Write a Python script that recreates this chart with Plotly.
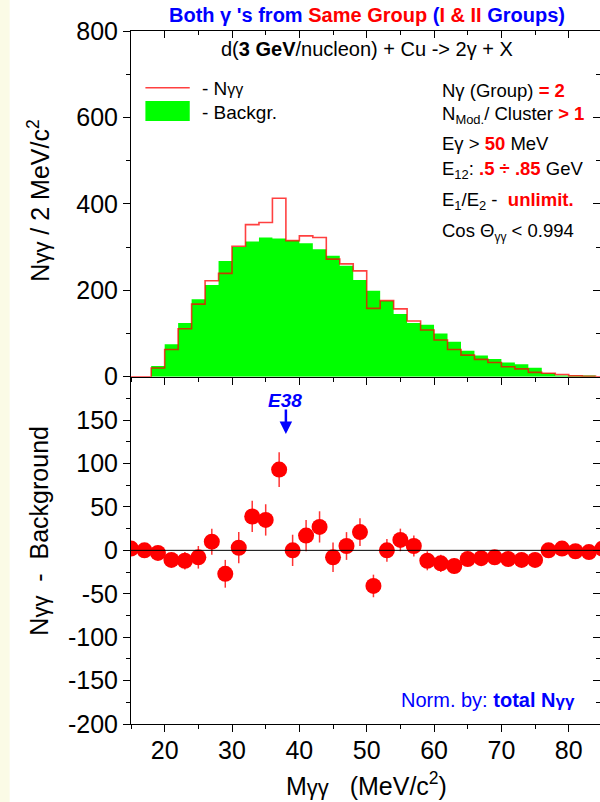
import plotly.graph_objects as go

# ---------------- data ----------------
mass = [15, 17, 19, 21, 23, 25, 27, 29, 31, 33, 35, 37, 39, 41, 43, 45, 47, 49,
        51, 53, 55, 57, 59, 61, 63, 65, 67, 69, 71, 73, 75, 77, 79, 81, 83, 85]
n_gg = [0, 0, 20, 63, 111, 168, 222, 239, 302, 352, 357, 413, 315, 326, 322, 272, 261, 245,
        158, 176, 157, 129, 108, 85, 63, 50, 40, 33, 23, 18, 10, 8, 5, 2, 1, 0]
backgr = [0, 0, 25, 75, 124, 179, 212, 268, 300, 313, 322, 320, 315, 309, 295, 280, 257, 224,
          199, 176, 145, 124, 120, 100, 81, 60, 49, 41, 33, 29, 21, 8, 3, 3, 3, 0]
diff = [2, 0, -3, -11, -12, -8, 10, -27, 3, 39, 35, 93, 0, 17, 27, -8, 5, 21,
        -41, 0, 12, 5, -12, -15, -18, -10, -9, -8, -10, -11, -11, 0, 2, -1, -2, 2]
diff_err = [3, 3, 5, 8, 10, 13, 15, 16, 18, 18, 18, 20, 18, 18, 18, 17, 16, 16,
            13, 13, 13, 12, 11, 10, 9, 8, 7, 6, 5, 5, 4, 4, 3, 3, 2, 2]
x_tickvals = [20, 30, 40, 50, 60, 70, 80]
top_tickvals = [0, 200, 400, 600, 800]
bot_tickvals = [-200, -150, -100, -50, 0, 50, 100, 150]
bot_ticktext = ["-200", "-150", "-100", "-50", "0", "50", "100", "150"]
peak_mass = 38

# ---------------- geometry ----------------
W, H = 600, 802
L, R, T, B = 131.3, 600, 31, 724
MID = 376.7
XR = [15, 15 + (R - L) / 6.73]
d = (B - MID) / (B - T)

def px(xp):
    return (xp - L) / (R - L)

def py(yp):
    return (B - yp) / (B - T)

FONT = "Liberation Sans, Arial, sans-serif"
RED = "#FF0000"
BLUE = "#0000FF"
LINE_RED = "rgba(255,0,0,0.75)"

fig = go.Figure()
fig.add_trace(go.Scatter(x=mass, y=backgr, mode="lines", line=dict(shape="hvh", width=0, color="#00FF00"),
                         fill="tozeroy", fillcolor="#00FF00",
                         xaxis="x2", yaxis="y2", showlegend=False, hoverinfo="skip"))
fig.add_trace(go.Scatter(x=mass, y=n_gg, mode="lines",
                         line=dict(shape="hvh", color=LINE_RED, width=1.6),
                         xaxis="x2", yaxis="y2", showlegend=False, hoverinfo="skip"))
fig.add_trace(go.Scatter(x=mass, y=diff, mode="markers",
                         marker=dict(size=16, color=RED, line=dict(width=0)),
                         error_y=dict(type="data", array=diff_err, color="rgba(255,0,0,0.8)",
                                      thickness=1.5, width=0),
                         xaxis="x", yaxis="y", showlegend=False, hoverinfo="skip"))
# helper (invisible) traces so the tick-only overlay axes are drawn
fig.add_trace(go.Scatter(x=mass, y=n_gg, mode="none", xaxis="x3", yaxis="y2",
                         showlegend=False, hoverinfo="skip"))
fig.add_trace(go.Scatter(x=mass, y=n_gg, mode="none", xaxis="x2", yaxis="y3",
                         showlegend=False, hoverinfo="skip"))
fig.add_trace(go.Scatter(x=mass, y=diff, mode="none", xaxis="x", yaxis="y4",
                         showlegend=False, hoverinfo="skip"))

tickfont = dict(family=FONT, size=25, color="black")
axcommon = dict(showgrid=False, zeroline=False, linecolor="black", linewidth=1,
                tickcolor="black", tickwidth=1, ticklen=7, tickfont=tickfont)

fig.update_layout(
    width=W, height=H,
    margin=dict(l=L, r=W - R, t=T, b=H - B, pad=0),
    paper_bgcolor="white", plot_bgcolor="white",
    hovermode=False,
    font=dict(family=FONT, color="black"),
    xaxis=dict(**axcommon, domain=[0, 1], anchor="y", range=XR, tickvals=x_tickvals,
               ticks="outside", showline=True, ticklabelstandoff=-3,
               minor=dict(dtick=5, tick0=15, ticks="outside", ticklen=4, tickcolor="black")),
    yaxis=dict(**axcommon, domain=[0, d], anchor="x", range=[-200, 200], tickvals=bot_tickvals,
               ticktext=bot_ticktext, ticks="outside", showline=True,
               minor=dict(dtick=25, tick0=0, ticks="outside", ticklen=4, tickcolor="black")),
    xaxis2=dict(**axcommon, domain=[0, 1], anchor="y2", range=XR, tickvals=x_tickvals,
                ticks="outside", showline=True, showticklabels=False,
                minor=dict(dtick=5, tick0=15, ticks="outside", ticklen=4, tickcolor="black")),
    yaxis2=dict(**axcommon, domain=[d, 1], anchor="x2", range=[0, 800], tickvals=top_tickvals,
                ticks="outside", showline=True,
                minor=dict(dtick=100, tick0=0, ticks="outside", ticklen=4, tickcolor="black")),
    xaxis3=dict(**axcommon, overlaying="x2", anchor="y2", side="top", range=XR,
                tickvals=x_tickvals, ticks="inside", showline=True, showticklabels=False,
                minor=dict(dtick=5, tick0=15, ticks="inside", ticklen=4, tickcolor="black")),
    yaxis3=dict(**axcommon, overlaying="y2", anchor="x2", side="right", range=[0, 800],
                tickvals=top_tickvals, ticks="inside", showline=False, showticklabels=False,
                minor=dict(dtick=100, tick0=0, ticks="inside", ticklen=4, tickcolor="black")),
    yaxis4=dict(**axcommon, overlaying="y", anchor="x", side="right", range=[-200, 200],
                tickvals=bot_tickvals, ticks="inside", showline=False, showticklabels=False,
                minor=dict(dtick=25, tick0=0, ticks="inside", ticklen=4, tickcolor="black")),
)

# zero line in the difference panel
fig.add_shape(type="line", xref="x", yref="y", x0=XR[0], x1=XR[1], y0=0, y1=0,
              line=dict(color="black", width=1))
# cream strip on the left edge of the page
fig.add_shape(type="rect", xref="paper", yref="paper", x0=px(0), x1=px(10), y0=py(H), y1=py(0),
              fillcolor="#FBFBE6", line=dict(width=0), layer="below")
# legend symbols
fig.add_shape(type="line", xref="paper", yref="paper", x0=px(145.7), x1=px(190),
              y0=py(87.7), y1=py(87.7), line=dict(color=LINE_RED, width=1.6))
fig.add_shape(type="rect", xref="paper", yref="paper", x0=px(145.7), x1=px(190),
              y0=py(121), y1=py(101), fillcolor="#00FF00", line=dict(width=0))

def ann(text, x, y, size, xanchor="center", color="black", angle=0):
    fig.add_annotation(text=text, xref="paper", yref="paper", x=px(x), y=py(y),
                       xanchor=xanchor, yanchor="middle", showarrow=False, textangle=angle,
                       font=dict(family=FONT, size=size, color=color))

gg = lambda s: '<span style="font-size:%dpx">γγ</span>' % s

ann('<b><span style="color:blue">Both γ \'s from </span><span style="color:red">Same Group </span>'
    '<span style="color:blue">(</span><span style="color:red">I &amp; II</span>'
    '<span style="color:blue"> Groups)</span></b>', 367, 15, 20)
ann('d(<b>3 GeV</b>/nucleon) + Cu -&gt; 2γ + X', 367, 49, 20)

ann('- N' + gg(16), 200, 88, 19, xanchor="left")
ann('- Backgr.', 200, 112, 19, xanchor="left")

ann('Nγ (Group) <b><span style="color:red">= 2</span></b>', 440, 90, 18.5, xanchor="left")
ann('N<sub>Mod.</sub>/ Cluster <b><span style="color:red">&gt; 1</span></b>', 440, 115, 18.5, xanchor="left")
ann('Eγ &gt; <b><span style="color:red">50</span></b> MeV', 440, 143, 18.5, xanchor="left")
ann('E<sub>12</sub>: <b><span style="color:red">.5 ÷ .85</span></b> GeV', 440, 170, 18.5, xanchor="left")
ann('E<sub>1</sub>/E<sub>2</sub> -&nbsp; <b><span style="color:red">unlimit.</span></b>', 440, 201, 18.5, xanchor="left")
ann('Cos Θ<sub>' + gg(12) + '</sub> &lt; 0.994', 440, 232, 18.5, xanchor="left")

ann('Norm. by: <b>total N' + gg(17) + '</b>', 577, 700, 20, xanchor="right", color=BLUE)

ann('N' + gg(22) + ' / 2 MeV/c<sup>2</sup>', 39, 201, 25, angle=-90)
ann('N' + gg(22) + '&nbsp; - &nbsp;Background', 39, 531, 25, angle=-90)
ann('M' + gg(22) + '&nbsp;&nbsp; (MeV/c<sup>2</sup>)', 367, 784, 25)

# E38 marker: label + arrow pointing down at the peak mass
ann('<b><i>E38</i></b>', 285, 400, 19, color=BLUE)
fig.add_annotation(x=peak_mass, y=134, xref="x", yref="y", text="", showarrow=True,
                   ax=0, ay=-26, arrowhead=2, arrowsize=1, arrowwidth=2.5, arrowcolor=BLUE)

fig.write_html("out.html", config={"displayModeBar": False, "staticPlot": True},
               post_script="document.body.style.margin='0px';")
